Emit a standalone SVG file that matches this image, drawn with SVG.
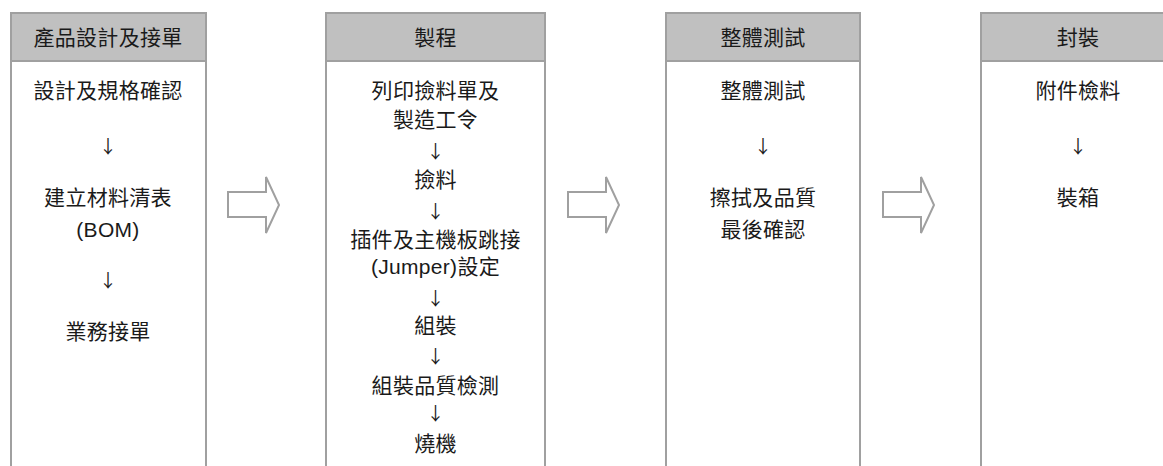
<svg xmlns="http://www.w3.org/2000/svg" width="1163" height="466" viewBox="0 0 1163 466">
<style>
.box{fill:#ffffff;stroke:#a0a0a0;stroke-width:2}
.hdr{fill:#c0c0c0;stroke:#a0a0a0;stroke-width:2}
.t{font-family:"Liberation Sans","Noto Sans CJK TC",sans-serif;font-size:21px;letter-spacing:0.3px;fill:#1a1a1a;text-anchor:middle;dominant-baseline:central}
.a{font-family:"Noto Sans CJK TC",sans-serif;font-size:18px;fill:#1a1a1a;text-anchor:middle;dominant-baseline:central}
.arr{fill:#ffffff;stroke:#a0a0a0;stroke-width:2;stroke-linejoin:miter}
</style>
<rect width="1163" height="466" fill="#ffffff"/>
<g id="node-design">
<rect class="box" x="11" y="13" width="195" height="480"/>
<rect class="hdr" x="11" y="13" width="195" height="48"/>
<text class="t" x="108" y="37">產品設計及接單</text>
<text class="t" x="108" y="90">設計及規格確認</text>
<text class="a" x="108" y="145">↓</text>
<text class="t" x="108" y="197">建立材料清表</text>
<text class="t" x="108" y="229">(BOM)</text>
<text class="a" x="108" y="279">↓</text>
<text class="t" x="108" y="331">業務接單</text>
</g>
<g id="node-process">
<rect class="box" x="326" y="13" width="219" height="480"/>
<rect class="hdr" x="326" y="13" width="219" height="48"/>
<text class="t" x="435.5" y="37">製程</text>
<text class="t" x="435.5" y="90">列印撿料單及</text>
<text class="t" x="435.5" y="119">製造工令</text>
<text class="a" x="435.5" y="150">↓</text>
<text class="t" x="435.5" y="179">撿料</text>
<text class="a" x="435.5" y="210">↓</text>
<text class="t" x="435.5" y="239">插件及主機板跳接</text>
<text class="t" x="435.5" y="266">(Jumper)設定</text>
<text class="a" x="435.5" y="297">↓</text>
<text class="t" x="435.5" y="325">組裝</text>
<text class="a" x="435.5" y="355">↓</text>
<text class="t" x="435.5" y="385">組裝品質檢測</text>
<text class="a" x="435.5" y="412">↓</text>
<text class="t" x="435.5" y="443">燒機</text>
</g>
<g id="node-test">
<rect class="box" x="666" y="13" width="194" height="480"/>
<rect class="hdr" x="666" y="13" width="194" height="48"/>
<text class="t" x="763" y="37">整體測試</text>
<text class="t" x="763" y="90">整體測試</text>
<text class="a" x="763" y="145">↓</text>
<text class="t" x="763" y="197">擦拭及品質</text>
<text class="t" x="763" y="229">最後確認</text>
</g>
<g id="node-pack">
<rect class="box" x="981" y="13" width="194" height="480"/>
<rect class="hdr" x="981" y="13" width="194" height="48"/>
<text class="t" x="1078" y="37">封裝</text>
<text class="t" x="1078" y="90">附件檢料</text>
<text class="a" x="1078" y="145">↓</text>
<text class="t" x="1078" y="197">裝箱</text>
</g>
<g id="connectors">
<polygon class="arr" points="228,192 266,192 266,177 279,205 266,233 266,217 228,217"/>
<polygon class="arr" points="568,192 606,192 606,177 619,205 606,233 606,217 568,217"/>
<polygon class="arr" points="883,192 921,192 921,177 934,205 921,233 921,217 883,217"/>
</g>
</svg>
